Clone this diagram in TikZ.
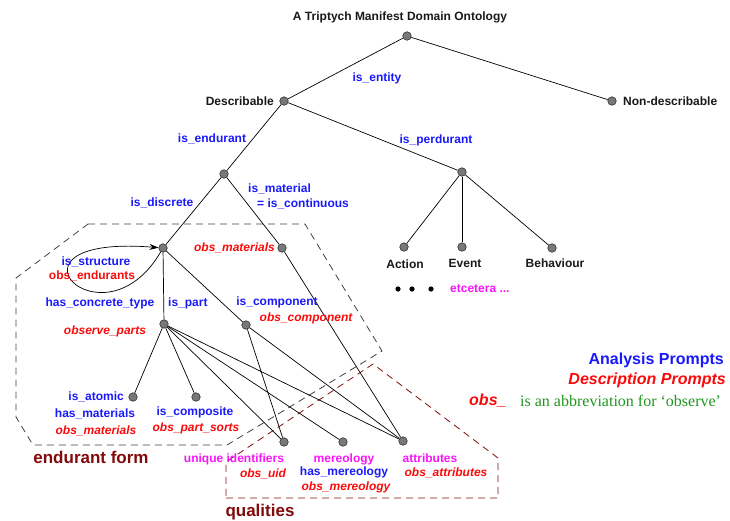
\documentclass[tikz,border=0pt]{standalone}
\usepackage{fontspec}
\setmainfont{Liberation Sans}
\newfontfamily\notefont{Liberation Serif}
\usetikzlibrary{arrows.meta}

\definecolor{apblue}{RGB}{25,25,250}
\definecolor{dpred}{RGB}{250,10,10}
\definecolor{qmag}{RGB}{250,20,250}
\definecolor{formred}{RGB}{130,10,10}
\definecolor{notegreen}{RGB}{30,150,30}
\definecolor{dotgray}{RGB}{120,120,120}

\tikzset{
  vertex/.style={circle, draw=black!80, fill=dotgray, line width=0.6pt, inner sep=0pt, minimum size=8.5pt},
  edge/.style={draw=black, line width=0.7pt},
  plain/.style={inner sep=0pt, font=\fontsize{12}{13}\selectfont\bfseries, text=black!90},
  ap/.style={inner sep=0pt, font=\fontsize{12}{13}\selectfont\bfseries, text=apblue},
  dp/.style={inner sep=0pt, font=\fontsize{12}{13}\selectfont\bfseries\itshape, text=dpred},
  qp/.style={inner sep=0pt, font=\fontsize{12}{13}\selectfont\bfseries, text=qmag},
  regiontitle/.style={inner sep=0pt, font=\fontsize{17}{18}\selectfont\bfseries, text=formred},
  legendap/.style={inner sep=0pt, font=\fontsize{16}{17}\selectfont\bfseries, text=apblue},
  legenddp/.style={inner sep=0pt, font=\fontsize{16}{17}\selectfont\bfseries\itshape, text=dpred},
  formframe/.style={draw=black!75, line width=0.8pt, dash pattern=on 7pt off 5pt},
  qualframe/.style={draw=formred, line width=0.8pt, dash pattern=on 7pt off 5pt},
}

\begin{document}
\begin{tikzpicture}[x=1pt, y=-1pt]
\useasboundingbox (0,0) rectangle (730,520);

% region frames
\draw[formframe] (88,224) -- (305,224) -- (382,351) -- (227,445) -- (33,445)
  -- (16,417) -- (16,278) -- cycle;
\draw[qualframe] (226,498) -- (498,498) -- (498,458) -- (373,364) -- (226,462) -- cycle;

% vertices
\node[vertex] (root)  at (407,36)  {};
\node[vertex] (desc)  at (284,101) {};
\node[vertex] (ndesc) at (612,101) {};
\node[vertex] (endu)  at (224,174) {};
\node[vertex] (perd)  at (462,172) {};
\node[vertex] (disc)  at (163,248) {};
\node[vertex] (mat)   at (282,248) {};
\node[vertex] (act)   at (404,247) {};
\node[vertex] (evt)   at (462,247) {};
\node[vertex] (beh)   at (552,248) {};
\node[vertex] (part)  at (164,324) {};
\node[vertex] (comp)  at (246,325) {};
\node[vertex] (atom)  at (133,397) {};
\node[vertex] (compo) at (196,397) {};
\node[vertex] (uid)   at (284,442) {};
\node[vertex] (mer)   at (343,442) {};
\node[vertex] (attr)  at (403,441) {};

% tree edges
\draw[edge] (root) -- (desc);
\draw[edge] (root) -- (ndesc);
\draw[edge] (desc) -- (endu);
\draw[edge] (desc) -- (perd);
\draw[edge] (endu) -- (disc);
\draw[edge] (endu) -- (mat);
\draw[edge] (perd) -- (act);
\draw[edge] (perd) -- (evt);
\draw[edge] (perd) -- (beh);
\draw[edge] (disc) -- (part);
\draw[edge] (disc) -- (comp);
\draw[edge] (part) -- (atom);
\draw[edge] (part) -- (compo);
\draw[edge] (part) -- (uid);
\draw[edge] (part) -- (mer);
\draw[edge] (part) -- (attr);
\draw[edge] (comp) -- (uid);
\draw[edge] (comp) -- (attr);
\draw[edge] (mat) -- (attr);

% structure loop
\draw[edge, -{Stealth[length=9pt, width=6pt]}] (disc) .. controls (102,352) and (-12,234) .. (disc);

% texts
\node[plain] (title) at (400,17) {A Triptych Manifest Domain Ontology};
\node[ap] at (377,78) {is\_entity};
\node[plain, anchor=east] at (274,101) {Describable};
\node[plain, anchor=west] at (623,101) {Non-describable};
\node[ap] at (212,139) {is\_endurant};
\node[ap] at (436,140) {is\_perdurant};
\node[ap] at (162,203) {is\_discrete};
\node[ap, anchor=west] at (248,189) {is\_material};
\node[ap, anchor=west] at (257,204) {= is\_continuous};
\node[dp, anchor=east] at (275,248) {obs\_materials};
\node[ap] at (96,262) {is\_structure};
\node[dp, font=\fontsize{12}{13}\selectfont\bfseries] at (92,276) {obs\_endurants};
\node[ap] at (100,303) {has\_concrete\_type};
\node[ap, anchor=west] at (168,303) {is\_part};
\node[dp] at (105,331) {observe\_parts};
\node[ap] at (277,302) {is\_component};
\node[dp] at (306,318) {obs\_component};
\node[ap, anchor=east] at (124,397) {is\_atomic};
\node[ap] at (95,414) {has\_materials};
\node[dp] at (96,431) {obs\_materials};
\node[ap] at (195,412) {is\_composite};
\node[dp] at (196,428) {obs\_part\_sorts};
\node[regiontitle] at (91,457) {endurant form};
\node[plain] at (405,264) {Action};
\node[plain] at (465,263) {Event};
\node[plain] at (555,263) {Behaviour};
\fill (398,289) circle (2.6pt) (412,289) circle (2.6pt) (431,289) circle (2.6pt);
\node[qp, anchor=west] at (450,289) {etcetera ...};
\node[qp] at (234,459) {unique identifiers};
\node[dp] at (263,474) {obs\_uid};
\node[qp] at (344,459) {mereology};
\node[ap] at (344,472) {has\_mereology};
\node[dp] at (346,487) {obs\_mereology};
\node[qp] at (430,458) {attributes};
\node[dp] at (446,473) {obs\_attributes};
\node[regiontitle] at (260,512) {qualities};

% legend
\node[legendap, anchor=east] at (724,360) {Analysis Prompts};
\node[legenddp, anchor=east] at (726,380) {Description Prompts};
\node[legenddp, anchor=west] at (469,401) {obs\_};
\node[inner sep=0pt, anchor=west, text=notegreen, font=\notefont\fontsize{16}{17}\selectfont] at (520,401) {is an abbreviation for ‘observe’};
\end{tikzpicture}
\end{document}
